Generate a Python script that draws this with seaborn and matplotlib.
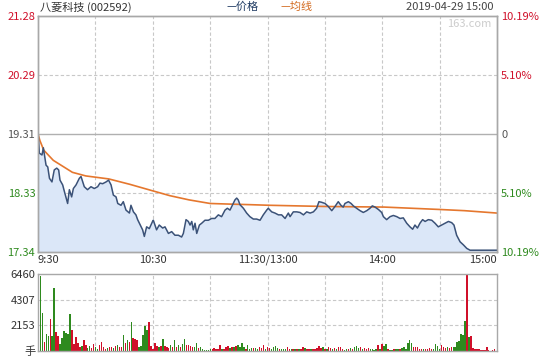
import numpy as np
import pandas as pd
import matplotlib
matplotlib.use("Agg")
import matplotlib.pyplot as plt
import seaborn as sns

# ---------------- data ----------------
title = "八菱科技 (002592)"
date_text = "2019-04-29 15:00"
watermark = "163.com"
legend_price = "—价格"
legend_avg = "—均线"

prev_close = 19.31
price_ticks = [17.34, 18.33, 19.31, 20.29, 21.28]
price_labels = ["17.34", "18.33", "19.31", "20.29", "21.28"]
pct_labels = ["10.19%", "5.10%", "0", "5.10%", "10.19%"]
time_ticks = [0, 60, 120, 180, 240]
time_labels = ["9:30", "10:30", "11:30/13:00", "14:00", "15:00"]
vol_ticks = [0, 2153, 4307, 6460]
vol_labels = ["手", "2153", "4307", "6460"]

price_min = [0, 0.7, 2.1, 2.8, 4.2, 5.1, 6.0, 7.3, 8.5, 9.8, 10.8, 11.5, 12.9, 13.8,
             15.5, 16.4, 17.6, 18.5, 19.9, 21.6, 22.5, 24.2, 25.9, 27.7, 29.4, 31.2,
             32.4, 33.8, 35.6, 36.9, 38.2, 39.4, 40.8, 41.7, 43.4, 44.6, 46.0, 47.8,
             48.6, 49.9, 51.2, 52.1, 53.9, 54.7, 55.6, 56.8, 58.2, 59.9,
             60.3, 62.0, 63.4, 65.2, 66.4, 68.2, 69.9, 71.6, 73.4, 75.1, 76.0, 77.4,
             78.6, 79.5, 80.4, 81.2, 82.1, 83.0, 84.4, 85.6, 87.3, 89.1, 90.8, 92.5,
             94.3, 96.0, 97.8, 99.0, 100.4, 101.8, 103.0, 103.9, 104.7, 105.6, 107.4,
             109.1, 110.8, 112.6, 114.3, 116.1, 117.8, 119.6,
             120.4, 122.2, 123.9, 125.7, 127.4, 129.2, 130.9, 131.8, 133.5, 135.3,
             137.0, 138.8, 140.5, 142.3, 144.0, 145.7, 146.9, 148.3, 150.1, 151.8,
             153.6, 155.3, 157.0, 158.4, 159.6, 160.5, 162.3, 163.7, 164.9, 166.6,
             168.4, 170.1, 171.9, 173.6, 174.8, 176.2, 178.0, 179.7,
             180.6, 182.3, 184.1, 185.8, 187.6, 189.3, 191.0, 192.8, 194.5, 195.9,
             197.1, 198.4, 199.7, 201.1, 202.4, 204.1, 205.9, 207.6, 209.3, 211.1,
             212.8, 214.6, 216.3, 217.5, 218.9, 220.7, 222.4, 224.2, 225.9, 240]
price_val = [19.36, 18.99, 18.96, 19.08, 18.79, 18.76, 18.57, 18.51, 18.71, 18.74, 18.71,
             18.54, 18.46, 18.35, 18.15, 18.38, 18.26, 18.40, 18.46, 18.57, 18.60, 18.43,
             18.38, 18.43, 18.40, 18.43, 18.49, 18.48, 18.51, 18.54, 18.46, 18.29, 18.26,
             18.15, 18.12, 18.18, 18.04, 17.99, 18.12, 18.01, 17.96, 17.88, 17.76, 17.71,
             17.60, 17.76, 17.73, 17.85,
             17.87, 17.71, 17.79, 17.74, 17.76, 17.65, 17.68, 17.62, 17.62, 17.59, 17.65,
             17.88, 17.85, 17.79, 17.85, 17.71, 17.82, 17.65, 17.79, 17.82, 17.87, 17.87,
             17.90, 17.90, 17.96, 17.93, 18.04, 18.07, 18.04, 18.13, 18.21, 18.24, 18.21,
             18.13, 18.07, 17.99, 17.93, 17.89, 17.89, 17.87, 17.96, 18.04,
             18.07, 18.01, 17.99, 17.96, 17.96, 17.90, 17.99, 17.93, 18.01, 18.01, 18.00,
             17.96, 18.01, 17.99, 18.01, 18.07, 18.18, 18.17, 18.15, 18.10, 18.03, 18.10,
             18.18, 18.12, 18.09, 18.15, 18.18, 18.15, 18.11, 18.07, 18.03, 18.00, 18.03,
             18.07, 18.11, 18.09, 18.05, 18.00,
             17.93, 17.88, 17.93, 17.95, 17.93, 17.90, 17.91, 17.82, 17.76, 17.72, 17.79,
             17.74, 17.82, 17.88, 17.85, 17.88, 17.87, 17.82, 17.76, 17.79, 17.82, 17.85,
             17.83, 17.79, 17.62, 17.51, 17.46, 17.40, 17.37, 17.37]

avg_min = [0, 1, 3, 8, 12, 18, 25, 37, 48, 59, 69, 79, 90, 100, 111, 121, 150, 181,
           210, 223, 240]
avg_val = [19.31, 19.20, 19.04, 18.87, 18.79, 18.67, 18.61, 18.56, 18.47, 18.37, 18.28,
           18.21, 18.15, 18.14, 18.13, 18.12, 18.10, 18.09, 18.05, 18.03, 17.99]

# morning session volume (hands) and direction (r = up, g = down)
vol_am = [1200, 6300, 3160, 780, 1430, 1260, 2660, 1260, 5260, 1620,
          1260, 590, 1060, 1680, 1480, 1430, 3100, 1760, 590, 1150,
          700, 310, 420, 920, 500, 220, 420, 220, 590, 310,
          140, 500, 780, 310, 200, 250, 310, 360, 220, 420,
          500, 360, 310, 1340, 700, 920, 780, 2460, 1060, 980,
          920, 310, 420, 1340, 2100, 1760, 2460, 420, 200, 700,
          420, 360, 420, 980, 420, 310, 220, 500, 360, 920,
          360, 500, 310, 590, 980, 500, 500, 420, 360, 310,
          700, 220, 310, 140, 80, 80, 80, 140, 140, 220,
          140, 200, 500, 140, 200, 310, 420, 220, 360, 310,
          420, 500, 360, 700, 310, 200, 500, 200, 250, 220,
          250, 200, 310, 250, 500, 200, 310]
dir_am = ("rggrggrggr" "rggggggrrr" "rrgrrggrrg" "grrrrgrrgr" "grrgrgrgrr"
          "rgggggrrrr" "rgrgrrrgrg" "rgrggrrrrg" "grggggggrr" "rrrgrrrgrg"
          "rggggrgggr" "ggrrrgr")
# afternoon session
vol_pm = [220, 200, 310, 420, 250, 200, 140, 140, 140, 360,
          140, 140, 140, 140, 140, 140, 200, 360, 250, 200,
          140, 200, 140, 200, 250, 420, 250, 310, 200, 140,
          310, 250, 200, 250, 200, 310, 360, 200, 80, 200,
          200, 250, 200, 310, 420, 250, 310, 200, 250, 200,
          250, 140, 200, 80, 140, 500, 200, 590, 420, 590,
          140, 80, 80, 140, 200, 140, 200, 250, 360, 200,
          700, 920, 700, 310, 360, 310, 200, 140, 200, 140,
          200, 250, 200, 140, 590, 420, 200, 500, 310, 250,
          310, 250, 310, 360, 360, 780, 870, 1430, 1340, 2550,
          6460, 1200, 1260, 220, 140, 200, 140, 80, 80, 80,
          360, 80, 20, 80, 200]
dir_pm = ("rggggrgggr" "rgrgrgrrgr" "rgrrrrrgrg" "rrgrgrrrgg" "rgrgggrgrr"
          "rggggrgrgg" "rggrggrggg" "gggrrrrrgr" "rrrggggrrr" "grrggggggg"
          "rgrrrrrrrr" "rrrrr")

# ---------------- style ----------------
sns.set_theme(style="white")
plt.rcParams["font.family"] = ["Noto Sans CJK SC", "DejaVu Sans"]

RED = "#d0102a"
GREEN = "#2e8a1e"
GRAY = "#555555"
GRID = "#c8c8c8"
SPINE = "#a8a8a8"
PRICE_C = "#3b5278"
FILL_C = "#dbe7f8"
AVG_C = "#e5772e"
FS = 8

W, H = 540, 360
fig = plt.figure(figsize=(W / 100, H / 100), dpi=100)
fig.patch.set_facecolor("white")

ax = fig.add_axes([38 / W, 1 - 252 / H, 459 / W, 236 / H])
axv = fig.add_axes([38 / W, 1 - 351 / H, 459 / W, 77 / H])

# ---------------- price panel ----------------
ax.fill_between(price_min, price_val, price_ticks[0], color=FILL_C, lw=0, zorder=1)
sns.lineplot(x=price_min, y=price_val, ax=ax, color=PRICE_C, lw=1.1, zorder=3)
sns.lineplot(x=avg_min, y=avg_val, ax=ax, color=AVG_C, lw=1.2, zorder=2)

ax.set_xlim(0, 240)
ax.set_ylim(price_ticks[0], price_ticks[-1])
for t in range(30, 240, 30):
    ax.axvline(t, color=GRID, ls=(0, (3, 2)), lw=0.8, zorder=0)
for p in (price_ticks[1], price_ticks[3]):
    ax.axhline(p, color=GRID, ls=(0, (3, 2)), lw=0.8, zorder=0)
ax.axhline(prev_close, color="#b0b0b0", lw=1.0, zorder=0)

tick_cols = [GREEN, GREEN, GRAY, RED, RED]
ax.set_yticks(price_ticks)
ax.set_yticklabels(price_labels)
for lab, c in zip(ax.get_yticklabels(), tick_cols):
    lab.set_color(c)
ax.set_xticks(time_ticks)
ax.set_xticklabels(time_labels)
has = ["left", "center", "center", "center", "right"]
for lab, h in zip(ax.get_xticklabels(), has):
    lab.set_horizontalalignment(h)
    lab.set_color("#333333")
ax.tick_params(axis="both", length=0, labelsize=FS, pad=2)
ax.set_xlabel("")
ax.set_ylabel("")

axr = ax.twinx()
axr.set_ylim(price_ticks[0], price_ticks[-1])
axr.set_yticks(price_ticks)
axr.set_yticklabels(pct_labels)
for lab, c in zip(axr.get_yticklabels(), tick_cols):
    lab.set_color(c)
axr.tick_params(axis="y", length=0, labelsize=FS, pad=3)

for a in (ax, axr):
    for s in a.spines.values():
        s.set_color(SPINE)
        s.set_linewidth(1.0)

# ---------------- volume panel ----------------
volume = vol_am + vol_pm
vol_dir = dir_am + dir_pm
pos = np.linspace(0.2, 238.8, len(volume))
cols = [RED if s == "r" else GREEN for s in vol_dir]
axv.bar(pos, volume, width=0.75, color=cols, lw=0, zorder=2)
axv.set_xlim(0, 240)
axv.set_ylim(0, vol_ticks[-1])
for t in range(30, 240, 30):
    axv.axvline(t, color=GRID, ls=(0, (3, 2)), lw=0.8, zorder=0)
for v in (vol_ticks[1], vol_ticks[2]):
    axv.axhline(v, color=GRID, ls=(0, (3, 2)), lw=0.8, zorder=0)
axv.set_xticks([])
axv.set_yticks(vol_ticks)
axv.set_yticklabels(vol_labels)
axv.tick_params(axis="y", length=0, labelsize=FS, pad=2, labelcolor="#333333")
for s in axv.spines.values():
    s.set_color(SPINE)
    s.set_linewidth(1.0)

# ---------------- header texts ----------------
fig.text(40 / W, 1 - 7 / H, title, ha="left", va="center", fontsize=FS, color="#333333")
fig.text(226 / W, 1 - 7 / H, legend_price, ha="left", va="center", fontsize=FS, color="#1e3a62")
fig.text(280 / W, 1 - 7 / H, legend_avg, ha="left", va="center", fontsize=FS, color="#d2691e")
fig.text(493 / W, 1 - 7 / H, date_text, ha="right", va="center", fontsize=FS, color="#444444")
fig.text(491 / W, 1 - 24 / H, watermark, ha="right", va="center", fontsize=FS, color="#cccccc")

fig.savefig("out.png", dpi=100, facecolor="white")
